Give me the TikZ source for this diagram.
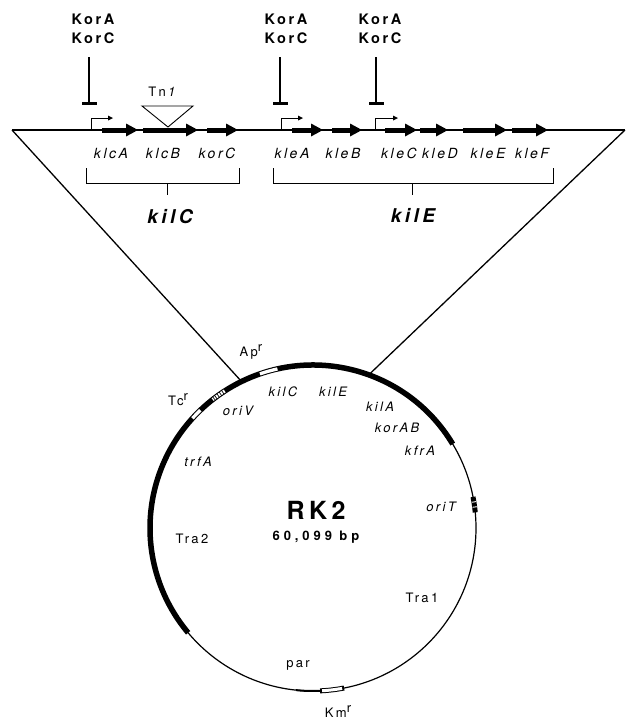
\documentclass[tikz,border=0pt]{standalone}
\usepackage{fontspec}
\setmainfont{TeX Gyre Heros}[LetterSpace=18]
\usetikzlibrary{arrows.meta}
\newcommand{\resmark}{\raisebox{5pt}{r}}

\begin{document}
\begin{tikzpicture}[x=1pt, y=-1pt,
    gene/.style={line width=5pt, -{Triangle[length=12pt, width=13pt, line width=0pt]}},
    prom/.style={line width=0.9pt, -{Triangle[length=5pt, width=5pt, line width=0pt]}},
    repress/.style={line width=2.2pt, -{Bar[width=15pt, line width=3pt]}},
    bracket/.style={line width=1pt},
    kor/.style={font=\fontsize{14.5}{18.5}\selectfont\bfseries, align=center, inner sep=0pt},
    genename/.style={font=\fontsize{14}{16}\selectfont\itshape, inner sep=0pt},
    region/.style={font=\fontsize{19}{21}\selectfont\bfseries\itshape, inner sep=0pt},
    maplabel/.style={font=\fontsize{13}{15}\selectfont, inner sep=0pt},
    mapgene/.style={font=\fontsize{13}{15}\selectfont\itshape, inner sep=0pt}]
    \useasboundingbox (0, 0) rectangle (627, 721);

    \coordinate (lineL) at (12, 130);
    \coordinate (lineR) at (625, 130);
    \draw [line width=1.1pt] (lineL) -- (lineR);

    \node [kor] (kor1) at (93, 29) {KorA\\KorC};
    \node [kor] (kor2) at (286, 29) {KorA\\KorC};
    \node [kor] (kor3) at (380, 29) {KorA\\KorC};
    \coordinate (r1) at (89, 105);
    \coordinate (r2) at (280, 105);
    \coordinate (r3) at (376, 105);
    \draw [repress] (r1 |- 0, 57) -- (r1);
    \draw [repress] (r2 |- 0, 57) -- (r2);
    \draw [repress] (r3 |- 0, 57) -- (r3);

    \coordinate (p1) at (91, 130);
    \coordinate (p2) at (281, 130);
    \coordinate (p3) at (375, 130);
    \draw [prom] (p1) |- (113, 118);
    \draw [prom] (p2) |- (303, 118);
    \draw [prom] (p3) |- (398, 118);

    \coordinate (klcA-s) at (102, 130); \coordinate (klcA-e) at (138, 130);
    \coordinate (klcB-s) at (143, 130); \coordinate (klcB-e) at (198, 130);
    \coordinate (korC-s) at (207, 130); \coordinate (korC-e) at (238, 130);
    \coordinate (kleA-s) at (292, 130); \coordinate (kleA-e) at (323, 130);
    \coordinate (kleB-s) at (332, 130); \coordinate (kleB-e) at (362, 130);
    \coordinate (kleC-s) at (385, 130); \coordinate (kleC-e) at (417, 130);
    \coordinate (kleD-s) at (420, 130); \coordinate (kleD-e) at (448, 130);
    \coordinate (kleE-s) at (463, 130); \coordinate (kleE-e) at (507, 130);
    \coordinate (kleF-s) at (512, 130); \coordinate (kleF-e) at (548, 130);
    \draw [gene] (klcA-s) -- (klcA-e);
    \draw [gene] (klcB-s) -- (klcB-e);
    \draw [gene] (korC-s) -- (korC-e);
    \draw [gene] (kleA-s) -- (kleA-e);
    \draw [gene] (kleB-s) -- (kleB-e);
    \draw [gene] (kleC-s) -- (kleC-e);
    \draw [gene] (kleD-s) -- (kleD-e);
    \draw [gene] (kleE-s) -- (kleE-e);
    \draw [gene] (kleF-s) -- (kleF-e);

    \node [genename] (klcA) at (111, 153) {klcA};
    \node [genename] (klcB) at (163, 153) {klcB};
    \node [genename] (korC) at (217, 153) {korC};
    \node [genename] (kleA) at (292, 153) {kleA};
    \node [genename] (kleB) at (343, 153) {kleB};
    \node [genename] (kleC) at (399, 153) {kleC};
    \node [genename] (kleD) at (440, 153) {kleD};
    \node [genename] (kleE) at (488, 153) {kleE};
    \node [genename] (kleF) at (532, 153) {kleF};

    \coordinate (tnL) at (142, 106);
    \coordinate (tnR) at (193, 106);
    \coordinate (tnTip) at (168, 127);
    \draw [line width=0.9pt, fill=white] (tnL) -- (tnR) -- (tnTip) -- cycle;
    \node [maplabel] (tn) at (163, 92) {Tn\,\textit{1}};

    \draw [bracket] (86, 168) |- (239, 183) -- (239, 168);
    \draw [bracket] (167, 183) -- (167, 195);
    \node [region] (kilC) at (170, 217) {kilC};
    \draw [bracket] (273, 168) |- (553, 183) -- (553, 168);
    \draw [bracket] (412, 183) -- (412, 195);
    \node [region] (kilE) at (413, 215) {kilE};

    \begin{scope}[shift={(313, 528)}, yscale=-1]
        \coordinate (rk) at (0, 0);
        \coordinate (cL) at (116:163);
        \coordinate (cR) at (70:163);
        \draw [line width=1.2pt] (rk) circle (163);
        \draw [line width=5.5pt] (31:163) arc (31:220:163);
        \draw [line width=2pt] (264:163) arc (264:272.5:163);
        \draw [white, line width=3.3pt] (102.6:163) arc (102.6:109:163);
        \draw [white, line width=3.3pt] (133.7:163) arc (133.7:137.7:163);
        \draw [white, line width=3.3pt] (122.8:163) arc (122.8:128:163);
        \foreach \a in {123.6, 124.6, 125.6, 126.6, 127.4}
            \draw [line width=0.7pt] (\a:160.5) -- (\a:165.5);
        \draw [line width=5pt] (5.5:163) arc (5.5:11:163);
        \draw [white, line width=0.9pt] (7.4:160.8) -- (7.4:165.2);
        \draw [white, line width=0.9pt] (9.2:160.8) -- (9.2:165.2);
        \draw [line width=5pt] (272.5:163) arc (272.5:281:163);
        \draw [white, line width=3pt] (273.2:163) arc (273.2:280.3:163);
    \end{scope}
    \draw [line width=1.3pt] (lineL) -- (cL);
    \draw [line width=1.3pt] (lineR) -- (cR);

    \node [maplabel] (ap) at (251, 352) {Ap\resmark};
    \node [maplabel] (tc) at (178, 400) {Tc\resmark};
    \node [mapgene] (oriV) at (238, 411) {oriV};
    \node [mapgene] (kilCm) at (283, 392) {kilC};
    \node [mapgene] (kilEm) at (333, 392) {kilE};
    \node [mapgene] (kilA) at (380, 407) {kilA};
    \node [mapgene] (korAB) at (397, 428) {korAB};
    \node [mapgene] (kfrA) at (420, 451) {kfrA};
    \node [mapgene] (oriT) at (441, 507) {oriT};
    \node [mapgene] (trfA) at (198, 462) {trfA};
    \node [maplabel] (tra2) at (192, 539) {Tra2};
    \node [maplabel] (tra1) at (422, 598) {Tra1};
    \node [maplabel] (par) at (298, 665) {par};
    \node [maplabel] (km) at (338, 711) {Km\resmark};
    \node [font=\fontsize{25}{28}\selectfont\bfseries, inner sep=0pt] (rk2) at (316, 510) {RK2};
    \node [font=\fontsize{13}{15}\selectfont\bfseries\addfontfeatures{LetterSpace=30}, inner sep=0pt] (size) at (316, 537) {60,099 bp};
\end{tikzpicture}
\end{document}
